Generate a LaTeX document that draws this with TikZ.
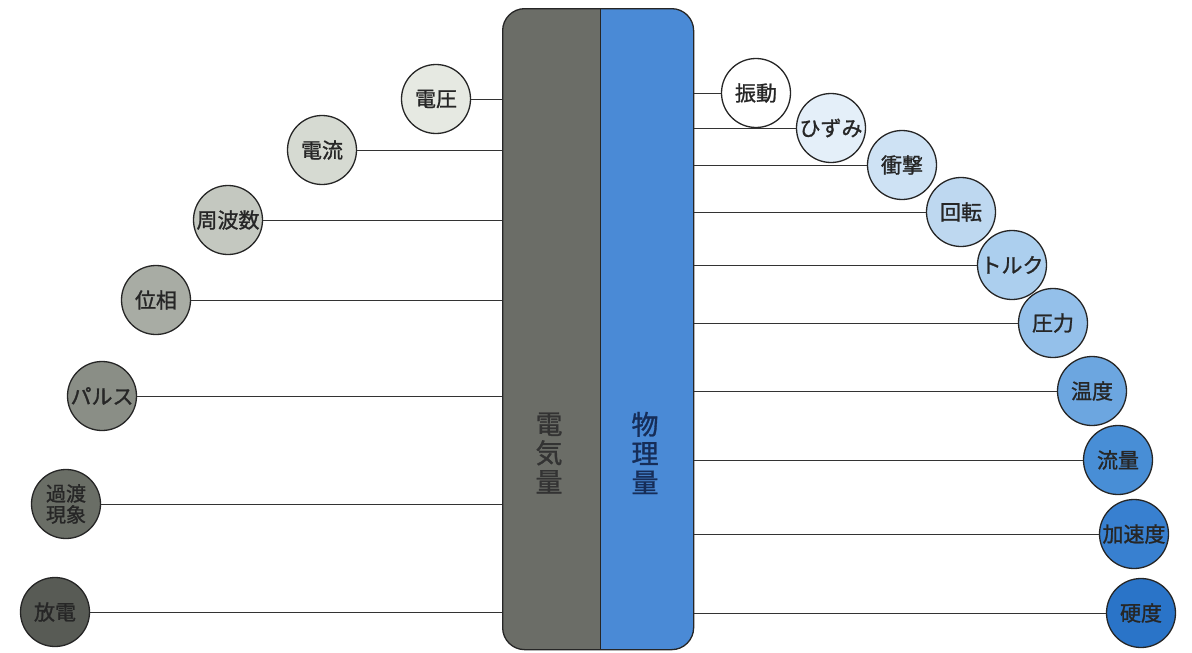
\documentclass[tikz,border=0pt]{standalone}
\usepackage{fontspec}
\setmainfont{Noto Sans CJK JP}[FakeBold=1.2]
\begin{document}
\begin{tikzpicture}[x=1pt,y=-1pt,
  bub/.style={circle,draw=black!85,line width=1.3pt,minimum size=69pt,inner sep=0pt,
    font=\fontsize{21}{21}\selectfont,text=black!85,align=center},
  conn/.style={draw=black!80,line width=1pt},
  vlabel/.style={align=center,font=\fontsize{27}{29}\selectfont}]
\useasboundingbox (0,0) rectangle (1192,653);
\definecolor{elecgrey}{HTML}{6B6D67}
\definecolor{physblue}{HTML}{4A8AD6}
% central box
\node[draw=black!85,line width=1.3pt,rounded corners=22pt,fill=elecgrey,
  minimum width=191pt,minimum height=641pt,anchor=north west,inner sep=0pt,
  path picture={\fill[physblue,sharp corners] ([xshift=2pt]path picture bounding box.north) rectangle (path picture bounding box.south east);
  \draw[black!85,line width=1.2pt,sharp corners] ([xshift=2pt]path picture bounding box.north) -- ([xshift=2pt]path picture bounding box.south);}]
  (box) at (502,8) {};
\node[vlabel,text=black!80] (elec) at (549,453) {電\\気\\量};
\node[vlabel,text={rgb,255:red,22;green,45;blue,88}] (phys) at (645,453) {物\\理\\量};
% left bubbles
\node[bub,fill={rgb,255:red,230;green,233;blue,226}] (a1) at (436,99) {電圧};
\node[bub,fill={rgb,255:red,214;green,218;blue,210}] (a2) at (322,150) {電流};
\node[bub,fill={rgb,255:red,196;green,200;blue,192}] (a3) at (228,220) {周波数};
\node[bub,fill={rgb,255:red,168;green,172;blue,164}] (a4) at (156,300) {位相};
\node[bub,fill={rgb,255:red,138;green,142;blue,134}] (a5) at (102,396) {パルス};
\node[bub,fill={rgb,255:red,106;green,110;blue,102},font=\fontsize{20}{21}\selectfont] (a6) at (66,504) {過渡\\現象};
\node[bub,fill={rgb,255:red,88;green,91;blue,85}] (a7) at (55,612) {放電};
\foreach \n in {a1,a2,a3,a4,a5,a6,a7}
  \draw[conn] (\n.east) -- (\n.east -| box.west);
% right bubbles
\node[bub,fill=white] (b1) at (756,93) {振動};
\node[bub,fill={rgb,255:red,228;green,239;blue,249}] (b2) at (831,128) {ひずみ};
\node[bub,fill={rgb,255:red,206;green,226;blue,244}] (b3) at (902,165) {衝撃};
\node[bub,fill={rgb,255:red,190;green,216;blue,240}] (b4) at (961,212) {回転};
\node[bub,fill={rgb,255:red,172;green,207;blue,238}] (b5) at (1012,265) {トルク};
\node[bub,fill={rgb,255:red,148;green,192;blue,234}] (b6) at (1053,323) {圧力};
\node[bub,fill={rgb,255:red,108;green,166;blue,224}] (b7) at (1092,391) {温度};
\node[bub,fill={rgb,255:red,72;green,142;blue,214}] (b8) at (1118,460) {流量};
\node[bub,fill={rgb,255:red,56;green,128;blue,208}] (b9) at (1134,534) {加速度};
\node[bub,fill={rgb,255:red,42;green,116;blue,200}] (b10) at (1141,613) {硬度};
\foreach \n in {b1,b2,b3,b4,b5,b6,b7,b8,b9,b10}
  \draw[conn] (\n.west -| box.east) -- (\n.west);
\end{tikzpicture}
\end{document}
